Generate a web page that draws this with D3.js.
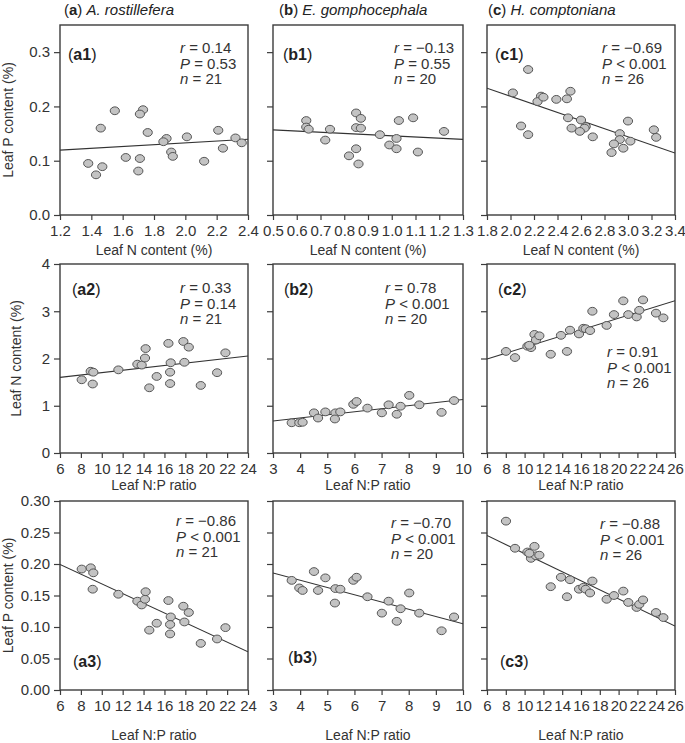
<!DOCTYPE html>
<html><head><meta charset="utf-8">
<script src="https://cdn.jsdelivr.net/npm/d3@7"></script>
<style>
body{margin:0;background:#fff}
svg{font-family:"Liberation Sans",Arial,sans-serif}
</style>
</head><body>
<svg id="chart" width="685" height="743"></svg>
<script>
// ---------------- DATA ----------------
// A. rostillefera (n = 21)
const aN  = [1.55,1.73,1.71,1.46,1.76,1.88,1.86,2.01,2.21,1.38,1.62,2.32,1.91,1.71,1.47,2.36,1.92,2.24,1.43,1.70,2.12];
const aP  = [0.192,0.194,0.186,0.160,0.152,0.141,0.135,0.144,0.156,0.095,0.106,0.142,0.116,0.104,0.089,0.133,0.108,0.123,0.074,0.081,0.099];
const aNP = [8.08,8.94,9.19,9.13,11.59,13.41,13.82,14.14,14.20,14.55,15.26,16.38,16.60,16.54,16.54,17.81,17.91,18.33,19.48,21.04,21.84];
// E. gomphocephala (n = 20)
const bN  = [0.64,0.64,0.65,0.85,0.74,0.87,0.85,0.87,0.72,1.03,1.09,0.95,0.85,1.02,0.82,0.99,1.22,1.02,0.86,1.11];
const bP  = [0.174,0.162,0.158,0.188,0.158,0.178,0.161,0.160,0.138,0.174,0.179,0.148,0.122,0.141,0.109,0.129,0.154,0.122,0.094,0.116];
const bNP = [3.69,3.97,4.09,4.51,4.66,4.93,5.30,5.48,5.28,5.96,6.08,6.48,7.01,7.26,7.56,7.70,8.02,8.39,9.21,9.67];
// H. comptoniana (n = 26)
const cN  = [2.15,2.02,2.26,2.23,2.51,2.39,2.48,2.28,2.09,2.15,2.49,2.60,2.52,2.64,2.63,2.59,3.00,2.70,2.93,3.22,2.93,2.88,3.02,3.24,2.96,2.86];
const cP  = [0.268,0.225,0.219,0.209,0.228,0.213,0.214,0.217,0.164,0.148,0.179,0.175,0.160,0.163,0.160,0.154,0.173,0.144,0.150,0.157,0.139,0.131,0.136,0.143,0.123,0.115];
const cNP = [8.02,8.98,10.30,10.68,11.05,11.21,11.57,10.50,12.78,14.51,13.87,14.83,15.79,16.25,16.50,16.96,17.21,18.73,19.51,20.50,21.03,21.92,22.20,22.60,23.98,24.76];

// tick values
const ticksNa  = [1.2,1.4,1.6,1.8,2.0,2.2,2.4];
const ticksNb  = [0.5,0.6,0.7,0.8,0.9,1.0,1.1,1.2,1.3];
const ticksNc  = [1.8,2.0,2.2,2.4,2.6,2.8,3.0,3.2,3.4];
const ticksNPa = [6,8,10,12,14,16,18,20,22,24];
const ticksNPb = [3,4,5,6,7,8,9,10];
const ticksNPc = [6,8,10,12,14,16,18,20,22,24,26];
const ticksP1  = [0.0,0.1,0.2,0.3];
const ticksN2  = [0,1,2,3,4];
const ticksP3  = [0.00,0.05,0.10,0.15,0.20,0.25,0.30];

// statistics text
const statR = ["0.14","\u22120.13","\u22120.69","0.33","0.78","0.91","\u22120.86","\u22120.70","\u22120.88"];
const statP = ["= 0.53","= 0.55","< 0.001","= 0.14","< 0.001","< 0.001","< 0.001","< 0.001","< 0.001"];
const statN = ["21","20","26","21","20","26","21","20","26"];
const panelIds = ["a1","b1","c1","a2","b2","c2","a3","b3","c3"];
const colLetters = ["a","b","c"];
const species = ["A. rostillefera","E. gomphocephala","H. comptoniana"];

// ---------------- LAYOUT ----------------
const svg = d3.select("#chart");
const colX = [[60,248],[273,463],[487,675]];
const rowY = [[25,215],[264,453],[501,690]];
const stroke = "#3c3c3c";

const dataCols = [
  {N:aN,P:aP,NP:aNP,tN:ticksNa,dN:[1.2,2.4],tNP:ticksNPa,dNP:[6,24]},
  {N:bN,P:bP,NP:bNP,tN:ticksNb,dN:[0.5,1.3],tNP:ticksNPb,dNP:[3,10]},
  {N:cN,P:cP,NP:cNP,tN:ticksNc,dN:[1.8,3.4],tNP:ticksNPc,dNP:[6,26]}
];
const rowsDef = [
  {xKey:"N",yKey:"P",yDom:[0,0.35],yTicks:ticksP1,yFmt:d3.format(".1f"),xTitle:"Leaf N content (%)",yTitle:"Leaf P content (%)"},
  {xKey:"NP",yKey:"N",yDom:[0,4],yTicks:ticksN2,yFmt:d3.format("d"),xTitle:"Leaf N:P ratio",yTitle:"Leaf N content (%)"},
  {xKey:"NP",yKey:"P",yDom:[0,0.30],yTicks:ticksP3,yFmt:d3.format(".2f"),xTitle:"Leaf N:P ratio",yTitle:"Leaf P content (%)"}
];
// text placement (layout only)
const statPos = [
  [[180,53],[394,53],[602,53]],
  [[180,293],[385,293],[607,357]],
  [[176,526],[391,528],[600,529]]
];
const labelPos = [
  [[68,60],[283,60],[495,60]],
  [[72,295],[284,295],[498,295]],
  [[73,667],[288,663],[500,667]]
];
const xTitleY = [255,490,740];
const yTitleX = [13,21,13];

function ols(xs, ys){
  const mx=d3.mean(xs), my=d3.mean(ys);
  let sxy=0,sxx=0;
  xs.forEach((x,i)=>{sxy+=(x-mx)*(ys[i]-my); sxx+=(x-mx)*(x-mx);});
  const b=sxy/sxx; return {b:b,a:my-b*mx};
}

// column titles
colLetters.forEach((l,ci)=>{
  const t = svg.append("text").attr("x",[64,279,488][ci]).attr("y",15)
    .attr("font-size",15).attr("fill","#222");
  t.append("tspan").text("(");
  t.append("tspan").attr("font-weight","bold").text(l);
  t.append("tspan").text(") ");
  t.append("tspan").attr("font-style","italic").text(species[ci]);
});

rowsDef.forEach((rd,ri)=>{
  dataCols.forEach((dc,ci)=>{
    const k = ri*3+ci;
    const [x0,x1]=colX[ci], [y0,y1]=rowY[ri];
    const xDom = rd.xKey==="N"?dc.dN:dc.dNP;
    const xTicks = rd.xKey==="N"?dc.tN:dc.tNP;
    const xFmt = rd.xKey==="N"?d3.format(".1f"):d3.format("d");
    const xs = dc[rd.xKey], ys = dc[rd.yKey];
    const x = d3.scaleLinear().domain(xDom).range([x0,x1]);
    const y = d3.scaleLinear().domain(rd.yDom).range([y1,y0]);
    const g = svg.append("g");

    // clip
    const cid = "clip"+k;
    svg.append("clipPath").attr("id",cid).append("rect")
      .attr("x",x0).attr("y",y0).attr("width",x1-x0).attr("height",y1-y0);

    // x axis
    const ax = g.append("g").attr("transform",`translate(0,${y1})`)
      .call(d3.axisBottom(x).tickValues(xTicks).tickFormat(xFmt).tickSize(5).tickSizeOuter(0).tickPadding(5));
    ax.select(".domain").remove();
    ax.selectAll("line").attr("stroke",stroke).attr("stroke-width",1.2);
    ax.selectAll("text").attr("font-size",15).attr("fill","#333").attr("font-family","Liberation Sans, Arial, sans-serif");

    // y axis
    const ay = g.append("g").attr("transform",`translate(${x0},0)`)
      .call(d3.axisLeft(y).tickValues(rd.yTicks).tickFormat(ci===0?rd.yFmt:"").tickSize(6).tickSizeOuter(0).tickPadding(4));
    ay.select(".domain").remove();
    ay.selectAll("line").attr("stroke",stroke).attr("stroke-width",1.2);
    ay.selectAll("text").attr("font-size",15).attr("fill","#333").attr("font-family","Liberation Sans, Arial, sans-serif");

    // frame
    g.append("rect").attr("x",x0).attr("y",y0).attr("width",x1-x0).attr("height",y1-y0)
      .attr("fill","none").attr("stroke",stroke).attr("stroke-width",1.4);

    // regression line
    const f = ols(xs,ys);
    g.append("line").attr("clip-path",`url(#${cid})`)
      .attr("x1",x(xDom[0])).attr("y1",y(f.a+f.b*xDom[0]))
      .attr("x2",x(xDom[1])).attr("y2",y(f.a+f.b*xDom[1]))
      .attr("stroke","#333").attr("stroke-width",1.1);

    // points
    g.selectAll("ellipse.pt").data(xs.map((v,i)=>[v,ys[i]])).join("ellipse")
      .attr("class","pt")
      .attr("cx",d=>x(d[0])).attr("cy",d=>y(d[1]))
      .attr("rx",4.6).attr("ry",3.9)
      .attr("fill","#c3c3c3").attr("stroke","#555").attr("stroke-width",1);

    // panel label
    const [lx,ly]=labelPos[ri][ci];
    const lt = g.append("text").attr("x",lx).attr("y",ly).attr("font-size",16).attr("fill","#222");
    lt.append("tspan").text("(");
    lt.append("tspan").attr("font-weight","bold").text(panelIds[k]);
    lt.append("tspan").text(")");

    // stats
    const [sx,sy]=statPos[ri][ci];
    const st = g.append("text").attr("font-size",15).attr("fill","#333");
    const l1 = st.append("tspan").attr("x",sx).attr("y",sy);
    l1.append("tspan").attr("font-style","italic").text("r");
    l1.append("tspan").text(" = "+statR[k]);
    const l2 = st.append("tspan").attr("x",sx).attr("y",sy+15.5);
    l2.append("tspan").attr("font-style","italic").text("P");
    l2.append("tspan").text(" "+statP[k]);
    const l3 = st.append("tspan").attr("x",sx).attr("y",sy+31);
    l3.append("tspan").attr("font-style","italic").text("n");
    l3.append("tspan").text(" = "+statN[k]);

    // x title
    g.append("text").attr("x",(x0+x1)/2).attr("y",xTitleY[ri]).attr("text-anchor","middle")
      .attr("font-size",14).attr("fill","#333").text(rd.xTitle);

    // y title
    if(ci===0){
      g.append("text").attr("transform",`translate(${yTitleX[ri]},${(y0+y1)/2}) rotate(-90)`)
        .attr("text-anchor","middle").attr("font-size",14).attr("fill","#333").text(rd.yTitle);
    }
  });
});
</script>
</body></html>
